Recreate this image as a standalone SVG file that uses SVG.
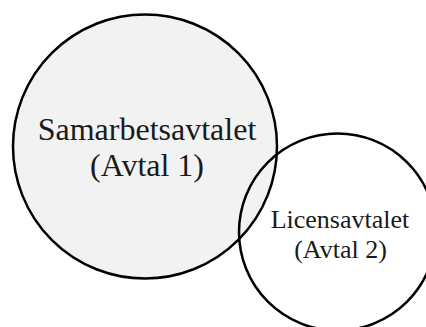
<svg xmlns="http://www.w3.org/2000/svg" width="426" height="327" viewBox="0 0 426 327">
<style>
.c{stroke:#000;stroke-width:2.5}
.t{font-family:"Liberation Serif","Times New Roman",serif;fill:#1a1a1a;text-anchor:middle}
</style>
<rect width="426" height="327" fill="#fff"/>
<g id="avtal1">
<circle class="c" cx="145" cy="146.5" r="132" fill="#f2f2f2"/>
<text class="t" x="147" y="139.5" font-size="32">Samarbetsavtalet</text>
<text class="t" x="147" y="176" font-size="32">(Avtal 1)</text>
</g>
<g id="avtal2">
<circle class="c" cx="337.5" cy="232" r="98.5" fill="none"/>
<text class="t" x="340" y="227.5" font-size="26">Licensavtalet</text>
<text class="t" x="340.5" y="257.5" font-size="26">(Avtal 2)</text>
</g>
<g id="connectors"></g>
</svg>
